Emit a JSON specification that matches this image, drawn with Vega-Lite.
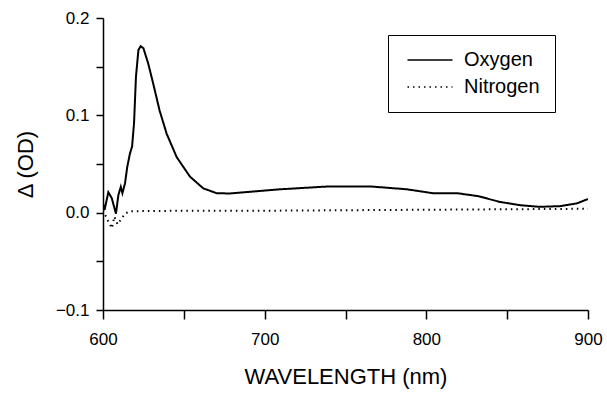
{
  "$schema": "https://vega.github.io/schema/vega-lite/v6.json",
  "autosize": {"type": "none"},
  "padding": {"left": 103, "top": 18, "right": 19, "bottom": 83},
  "width": 485,
  "height": 292,
  "background": "white",
  "config": {
    "view": {"stroke": null},
    "font": "Liberation Sans",
    "axis": {
      "grid": false,
      "domainColor": "black",
      "domainWidth": 1.5,
      "tickColor": "black",
      "tickWidth": 1.5,
      "labelColor": "black",
      "titleColor": "black",
      "labelFont": "Liberation Sans",
      "titleFont": "Liberation Sans",
      "labelFontSize": 17,
      "titleFontSize": 22,
      "titleFontWeight": "normal"
    }
  },
  "data": {
    "values": [
      {"wl": 600, "od": 0.0095, "gas": "Oxygen"},
      {"wl": 601, "od": 0.003, "gas": "Oxygen"},
      {"wl": 603.3, "od": 0.021, "gas": "Oxygen"},
      {"wl": 605.4, "od": 0.015, "gas": "Oxygen"},
      {"wl": 608, "od": -0.001, "gas": "Oxygen"},
      {"wl": 609.5, "od": 0.018, "gas": "Oxygen"},
      {"wl": 611, "od": 0.0265, "gas": "Oxygen"},
      {"wl": 612, "od": 0.02, "gas": "Oxygen"},
      {"wl": 613.6, "od": 0.03, "gas": "Oxygen"},
      {"wl": 615, "od": 0.047, "gas": "Oxygen"},
      {"wl": 616.7, "od": 0.061, "gas": "Oxygen"},
      {"wl": 618, "od": 0.068, "gas": "Oxygen"},
      {"wl": 619.2, "od": 0.092, "gas": "Oxygen"},
      {"wl": 620.4, "od": 0.14, "gas": "Oxygen"},
      {"wl": 621.9, "od": 0.167, "gas": "Oxygen"},
      {"wl": 623.3, "od": 0.171, "gas": "Oxygen"},
      {"wl": 625, "od": 0.169, "gas": "Oxygen"},
      {"wl": 628, "od": 0.153, "gas": "Oxygen"},
      {"wl": 631, "od": 0.133, "gas": "Oxygen"},
      {"wl": 635, "od": 0.105, "gas": "Oxygen"},
      {"wl": 639.4, "od": 0.081, "gas": "Oxygen"},
      {"wl": 645.6, "od": 0.057, "gas": "Oxygen"},
      {"wl": 653.8, "od": 0.037, "gas": "Oxygen"},
      {"wl": 662, "od": 0.025, "gas": "Oxygen"},
      {"wl": 670.3, "od": 0.02, "gas": "Oxygen"},
      {"wl": 678.6, "od": 0.0197, "gas": "Oxygen"},
      {"wl": 695, "od": 0.022, "gas": "Oxygen"},
      {"wl": 709.5, "od": 0.024, "gas": "Oxygen"},
      {"wl": 740, "od": 0.027, "gas": "Oxygen"},
      {"wl": 765, "od": 0.027, "gas": "Oxygen"},
      {"wl": 788, "od": 0.024, "gas": "Oxygen"},
      {"wl": 804, "od": 0.02, "gas": "Oxygen"},
      {"wl": 819, "od": 0.02, "gas": "Oxygen"},
      {"wl": 832, "od": 0.017, "gas": "Oxygen"},
      {"wl": 845.6, "od": 0.011, "gas": "Oxygen"},
      {"wl": 858, "od": 0.0077, "gas": "Oxygen"},
      {"wl": 870, "od": 0.006, "gas": "Oxygen"},
      {"wl": 882.7, "od": 0.0067, "gas": "Oxygen"},
      {"wl": 893, "od": 0.0095, "gas": "Oxygen"},
      {"wl": 900, "od": 0.014, "gas": "Oxygen"},
      {"wl": 600, "od": 0.0026, "gas": "Nitrogen"},
      {"wl": 603, "od": -0.008, "gas": "Nitrogen"},
      {"wl": 605.5, "od": -0.016, "gas": "Nitrogen"},
      {"wl": 607, "od": -0.004, "gas": "Nitrogen"},
      {"wl": 609, "od": -0.012, "gas": "Nitrogen"},
      {"wl": 611.5, "od": -0.006, "gas": "Nitrogen"},
      {"wl": 613.6, "od": -0.001, "gas": "Nitrogen"},
      {"wl": 616.7, "od": 0.0015, "gas": "Nitrogen"},
      {"wl": 650, "od": 0.002, "gas": "Nitrogen"},
      {"wl": 700, "od": 0.002, "gas": "Nitrogen"},
      {"wl": 750, "od": 0.0025, "gas": "Nitrogen"},
      {"wl": 800, "od": 0.003, "gas": "Nitrogen"},
      {"wl": 850, "od": 0.0035, "gas": "Nitrogen"},
      {"wl": 900, "od": 0.004, "gas": "Nitrogen"}
    ]
  },
  "mark": {"type": "line", "color": "black", "clip": true, "strokeWidth": 2},
  "encoding": {
    "x": {
      "field": "wl",
      "type": "quantitative",
      "scale": {"domain": [600, 900], "nice": false, "zero": false},
      "axis": {
        "title": "WAVELENGTH (nm)",
        "values": [600, 650, 700, 750, 800, 850, 900],
        "labelExpr": "datum.value % 100 == 0 ? format(datum.value, 'd') : ''",
        "tickSize": 9,
        "labelPadding": 12,
        "titlePadding": 19,
        "labelFlush": false
      }
    },
    "y": {
      "field": "od",
      "type": "quantitative",
      "scale": {"domain": [-0.1, 0.2], "nice": false},
      "axis": {
        "title": "Δ (OD)",
        "values": [-0.1, -0.05, 0, 0.05, 0.1, 0.15, 0.2],
        "labelExpr": "abs(datum.value * 10 - round(datum.value * 10)) < 0.01 ? format(datum.value, '.1f') : ''",
        "tickSize": 7,
        "labelPadding": 7,
        "titlePadding": 18,
        "labelFlush": false
      }
    },
    "strokeDash": {
      "field": "gas",
      "type": "nominal",
      "scale": {"domain": ["Oxygen", "Nitrogen"], "range": [[1, 0], [1.5, 4]]},
      "legend": {
        "title": null,
        "orient": "none",
        "legendX": 285,
        "legendY": 17,
        "strokeColor": "black",
        "fillColor": "white",
        "padding": 15,
        "symbolType": "M-3,0H3",
        "symbolSize": 225,
        "symbolOffset": 17,
        "symbolStrokeWidth": 1.5,
        "symbolStrokeColor": "black",
        "labelFontSize": 20,
        "labelFont": "Liberation Sans",
        "labelColor": "black",
        "labelOffset": 24,
        "rowPadding": 7
      }
    }
  }
}
